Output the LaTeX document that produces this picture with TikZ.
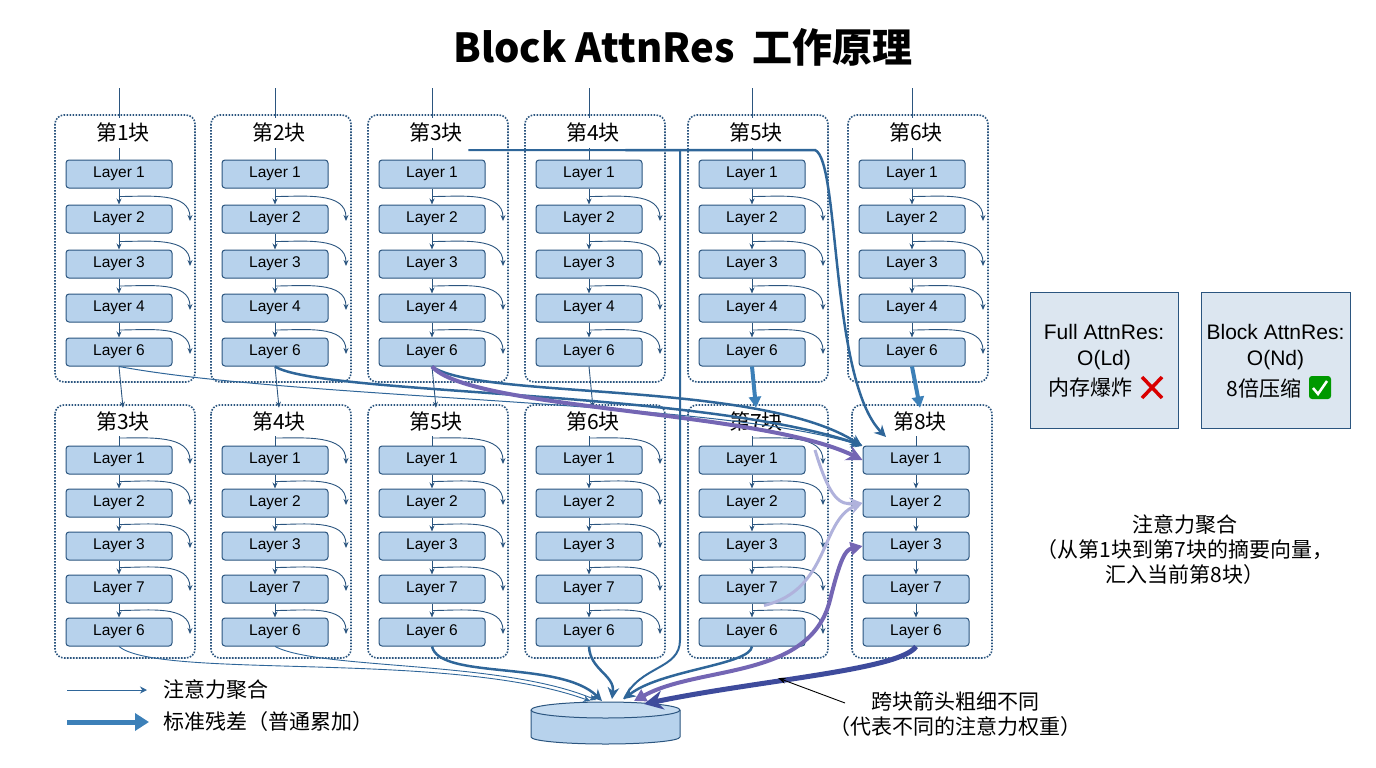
\documentclass[tikz,border=0pt]{standalone}
\usepackage{fontspec}
\setmainfont{Liberation Sans}
\newfontfamily\cjk{Noto Sans CJK SC}
\usetikzlibrary{arrows.meta,calc}
\definecolor{navy}{HTML}{2B557F}
\definecolor{lfill}{HTML}{B7D2EC}
\definecolor{ablue}{HTML}{2F6699}
\definecolor{tblue}{HTML}{3C80B8}
\definecolor{purp}{HTML}{7466B4}
\definecolor{lpurp}{HTML}{B0B2DC}
\definecolor{dpurp}{HTML}{3E4B9C}
\definecolor{boxf}{HTML}{DCE6F0}
\begin{document}
\begin{tikzpicture}[x=1pt,y=-1pt,
 layer/.style={draw=navy,fill=lfill,rounded corners=3,minimum width=106pt,minimum height=28pt,inner sep=0pt,line width=1pt,font=\fontsize{15.5}{17}\selectfont},
 frame/.style={draw=navy,dash pattern=on 1.6pt off 1.4pt,rounded corners=9,line width=1.6pt},
 ttl/.style={font=\cjk\fontsize{21}{23}\selectfont},
 flow/.style={draw=navy,line width=0.9pt,-{Stealth[length=6pt,width=5pt]}},
 skip/.style={draw=navy,line width=0.9pt,-{Stealth[length=6pt,width=5pt]}},
 thick/.style={draw=tblue,line width=4pt,-{Triangle[length=11pt,width=12pt]}},
 attn/.style={line width=#1,-{Stealth[length=4pt+3*#1,width=4pt+3*#1]}},
 lbl/.style={font=\cjk\fontsize{21}{25}\selectfont,align=center}]
\useasboundingbox (0,0) rectangle (1376,768);
\node[font=\cjk\bfseries\fontsize{40}{44}\selectfont] (title) at (683,47) {Block AttnRes\ \ 工作原理};
% top row
\foreach \i/\l/\t in {1/55/第1块,2/211/第2块,3/368/第3块,4/525/第4块,5/688/第5块,6/848/第6块}{
 \pgfmathsetmacro\cx{\l+64}
 \draw[frame] (\l,115) rectangle (\l+140,382);
 \node[ttl] (tt\i) at (\l+68,132) {\t};
 \foreach \k/\y/\n in {1/174/1,2/219/2,3/264/3,4/308/4,5/352/6}
  \node[layer] (t\i-\k) at (\cx,\y) {Layer \n};
 \draw[navy,line width=0.9pt] (\cx,88) -- (\cx,118) (\cx,148) -- (t\i-1.north);
 \foreach \a/\b in {1/2,2/3,3/4,4/5} \draw[flow] (t\i-\a.south) -- (t\i-\b.north);
 \foreach \m/\y in {196.5/219,241.5/264,286/308,330/352}
  \draw[skip] (\cx,\m) to[out=0,in=90] (\cx+71,\y+2);
}
% bottom row
\foreach \i/\l/\t in {1/55/第3块,2/211/第4块,3/368/第5块,4/525/第6块,5/688/第7块,6/852/第8块}{
 \pgfmathsetmacro\cx{\l+64}
 \draw[frame] (\l,405) rectangle (\l+140,658);
 \node[ttl] (bt\i) at (\l+68,421) {\t};
 \foreach \k/\y/\n in {1/460/1,2/503/2,3/546/3,4/589/7,5/632/6}
  \node[layer] (b\i-\k) at (\cx,\y) {Layer \n};
 \draw[navy,line width=0.9pt] (\cx,436) -- (b\i-1.north);
 \foreach \a/\b in {1/2,2/3,3/4,4/5} \draw[flow] (b\i-\a.south) -- (b\i-\b.north);
}
\foreach \i/\l in {1/55,2/211,3/368,4/525,5/688}{
 \pgfmathsetmacro\cx{\l+64}
 \foreach \m/\y in {438/462,481.5/503,524.5/546,567.5/589,610.5/632}
  \draw[skip] (\cx,\m) to[out=0,in=90] (\cx+71,\y+2);
}
% row links
\foreach \i in {1,2,3,4} \draw[flow] (t\i-5.south) -- (bt\i.north);
\draw[thick] (t5-5.south) -- (bt5.north);
\draw[thick] (t6-5.south) -- (bt6.north);
% cylinder
\filldraw[fill=lfill,draw=navy,line width=1pt] (531,710) -- (531,737) arc[start angle=180,end angle=0,x radius=74.5,y radius=7] -- (680,710);
\filldraw[fill=lfill!80!white,draw=navy,line width=1pt] (605.5,710) ellipse [x radius=74.5,y radius=8];
\coordinate (c1) at (590,701); \coordinate (c2) at (596,700); \coordinate (c3) at (602,701);
\coordinate (c4) at (612,699); \coordinate (c5) at (624,699); \coordinate (c6) at (634,701); \coordinate (c7) at (644,704);
% long cross-block arrows (top row)
\coordinate (e1) at (862,446); \coordinate (e2) at (886,437);
\draw[attn=1pt,ablue] (t1-5.south) .. controls (300,400) and (720,400) .. (e1);
\draw[attn=2.5pt,ablue] (t2-5.south) .. controls (320,395) and (700,390) .. (b6-1.north west);
\draw[attn=2.5pt,ablue] (t3-5.south) .. controls (480,400) and (760,380) .. (e1);
\draw[attn=4pt,purp] (t3-5.south) .. controls (470,410) and (760,410) .. (b6-1.west);
\draw[ablue,line width=2pt] (tt3.east) ++(2,18) -- (680,150) -- (680,640) .. controls (680,670) and (640,665) .. (c5);
\draw[attn=2.5pt,ablue] (tt4.east) ++(2,18) -- (815,150) .. controls (840,160) and (830,380) .. (e2);
% bottom row to store
\draw[attn=0.9pt,ablue] (b1-5.south) .. controls (160,680) and (450,650) .. (c1);
\draw[attn=0.9pt,ablue] (b2-5.south) .. controls (320,670) and (500,660) .. (c2);
\draw[attn=2.5pt,ablue] (b3-5.south) .. controls (440,680) and (560,660) .. (c3);
\draw[attn=2.5pt,ablue] (b4-5.south) .. controls (590,670) and (615,675) .. (c4);
\draw[attn=2.5pt,ablue] (b5-5.south) .. controls (750,665) and (660,670) .. (c5);
\draw[line width=4pt,purp,{Triangle[length=12pt,width=13pt]}-{Triangle[length=12pt,width=13pt]}] (c6) .. controls (700,665) and (810,680) .. (830,600) .. controls (840,560) and (845,550) .. (b6-3.west);
\draw[attn=5pt,dpurp] (b6-5.south) .. controls (900,670) and (760,680) .. (c7);
\draw[attn=3pt,lpurp] (b5-5.north) ++(12,-12) .. controls (830,590) and (820,520) .. (b6-2.west);
\draw[attn=3pt,lpurp] (815,450) .. controls (830,500) and (840,505) .. (b6-2.west);
% right boxes
\node[draw=navy,fill=boxf,line width=1pt,minimum width=148pt,minimum height=136pt,inner sep=0pt] (full) at (1104,360) {};
\node[draw=navy,fill=boxf,line width=1pt,minimum width=149pt,minimum height=136pt,inner sep=0pt] (blk) at (1275.5,360) {};
\node[font=\fontsize{21}{26}\selectfont,align=center] (ft) at (1104,347) {Full AttnRes:\\O(Ld)};
\node[font=\cjk\fontsize{21}{25}\selectfont,anchor=east] (fm) at (1136,388) {内存爆炸};
\draw[red!85!black,line width=3.5pt] (1142,377) -- (1162,398) (1162,377) -- (1142,398);
\node[font=\fontsize{21}{26}\selectfont,align=center] (bt) at (1275.5,347) {Block AttnRes:\\O(Nd)};
\node[font=\cjk\fontsize{21}{25}\selectfont,anchor=east] (bm) at (1305,388) {8倍压缩};
\fill[green!60!black,rounded corners=3] (1309,376) rectangle (1331,399);
\draw[white,line width=2.5pt] (1313,388) -- (1318,394) -- (1327,381);
% annotations
\node[lbl] (agg) at (1185,550) {注意力聚合\\（从第1块到第7块的摘要向量，\\汇入当前第8块）};
\node[lbl] (note) at (955,714) {跨块箭头粗细不同\\（代表不同的注意力权重）};
\coordinate (np) at (778,678);
\draw[-{Stealth[length=8pt]},line width=0.9pt] (845,703) -- (np);
% legend
\coordinate (l1a) at (67,690); \coordinate (l1b) at (147,690);
\coordinate (l2a) at (67,722); \coordinate (l2b) at (149,722);
\draw[attn=1pt,ablue] (l1a) -- (l1b);
\draw[thick,line width=5pt,-{Triangle[length=14pt,width=17pt]}] (l2a) -- (l2b);
\node[lbl,anchor=west] (lg1) at (160,690) {注意力聚合};
\node[lbl,anchor=west] (lg2) at (160,722) {标准残差（普通累加）};
\end{tikzpicture}
\end{document}
